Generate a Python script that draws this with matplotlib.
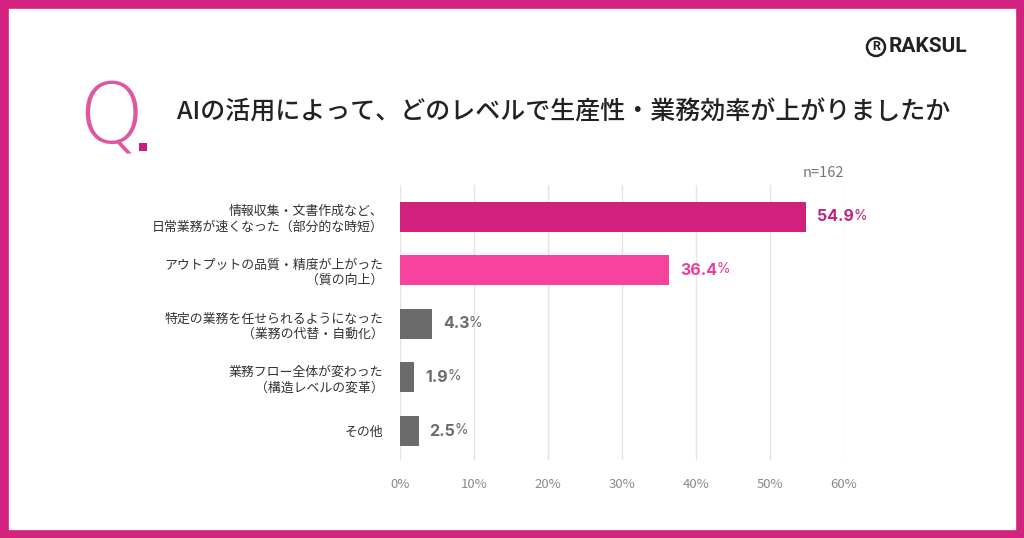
import matplotlib
matplotlib.use('Agg')
import matplotlib.pyplot as plt
from matplotlib.patches import Rectangle, Ellipse

plt.rcParams['font.family'] = ['Noto Sans CJK JP', 'DejaVu Sans']

# data
categories = [
    '情報収集・文書作成など、\n日常業務が速くなった（部分的な時短）',
    'アウトプットの品質・精度が上がった\n（質の向上）',
    '特定の業務を任せられるようになった\n（業務の代替・自動化）',
    '業務フロー全体が変わった\n（構造レベルの変革）',
    'その他',
]
values = [54.9, 36.4, 4.3, 1.9, 2.5]
bar_colors = ['#d1217d', '#f6449e', '#6b6b6b', '#6b6b6b', '#6b6b6b']
label_colors = ['#c0257a', '#e8409a', '#6b6b6b', '#6b6b6b', '#6b6b6b']
xticks = [0, 10, 20, 30, 40, 50, 60]
title = 'AIの活用によって、どのレベルで生産性・業務効率が上がりましたか'
sample_note = 'n=162'

W, H = 1024, 538
fig = plt.figure(figsize=(W / 100, H / 100), dpi=100)
fig.patch.set_facecolor('white')

# frame
fig.patches.append(Rectangle((0, 0), 1, 1, transform=fig.transFigure,
                             facecolor='none', edgecolor='#d4237f',
                             linewidth=12, zorder=10))

# chart area (pixel positions from the reference)
left, right, top, bottom = 400, 844, 185, 460
ax = fig.add_axes([left / W, 1 - bottom / H, (right - left) / W, (bottom - top) / H])
ypos = list(range(len(values)))
ax.barh(ypos, values, height=0.56, color=bar_colors, zorder=3)
ax.set_xlim(0, 60)
ax.set_ylim(4.54, -0.59)
ax.set_xticks(xticks)
ax.set_xticklabels([f'{t}%' for t in xticks], fontsize=9.5, color='#8a8a8a')
ax.set_yticks(ypos)
ax.set_yticklabels(categories, fontsize=9.3, color='#333333',
                   linespacing=1.25, multialignment='right')
ax.tick_params(axis='both', length=0)
ax.tick_params(axis='y', pad=12)
ax.tick_params(axis='x', pad=13)
ax.grid(axis='x', color='#e4e4e4', linewidth=1, zorder=0)
for s in ax.spines.values():
    s.set_visible(False)

# value labels with a smaller percent sign
for i, (v, c) in enumerate(zip(values, label_colors)):
    num = ax.annotate(f'{v:.1f}', xy=(v, i), xytext=(8, 0), textcoords='offset points',
                      ha='left', va='center', fontsize=11.5, fontweight='bold',
                      color=c, family=['Inter', 'DejaVu Sans'])
    ax.annotate('%', xy=(1, 0.1), xycoords=num, xytext=(-0.5, 0),
                textcoords='offset points', ha='left', va='bottom',
                fontsize=10, color=c, family=['Inter', 'DejaVu Sans'])

fig.text(right / W, 1 - 173 / H, sample_note, ha='right', va='center',
         fontsize=10.5, color='#777777')

# heading
fig.text(78 / W, 1 - 119 / H, 'Q', ha='left', va='center', fontsize=60,
         color='#e2559f', family=['DejaVu Sans'], fontweight=200)
fig.patches.append(Rectangle((139 / W, 1 - 151 / H), 8 / W, 8 / H,
                             transform=fig.transFigure, facecolor='#c8207c',
                             edgecolor='none'))
fig.text(177 / W, 1 - 113 / H, title, ha='left', va='center', fontsize=18,
         color='#222222', fontweight='medium')

# logo
fig.patches.append(Ellipse((876 / W, 1 - 47 / H), 18 / W, 18 / H,
                           transform=fig.transFigure, facecolor='none',
                           edgecolor='#222222', linewidth=1.8))
fig.text(876 / W, 1 - 47 / H, 'R', ha='center', va='center', fontsize=9,
         fontweight='bold', color='#222222', family=['Roboto', 'DejaVu Sans'])
fig.text(889 / W, 1 - 47 / H, 'RAKSUL', ha='left', va='center', fontsize=15,
         fontweight='bold', color='#222222', family=['Roboto', 'DejaVu Sans'])

fig.savefig('out.png', dpi=100, facecolor='white')
